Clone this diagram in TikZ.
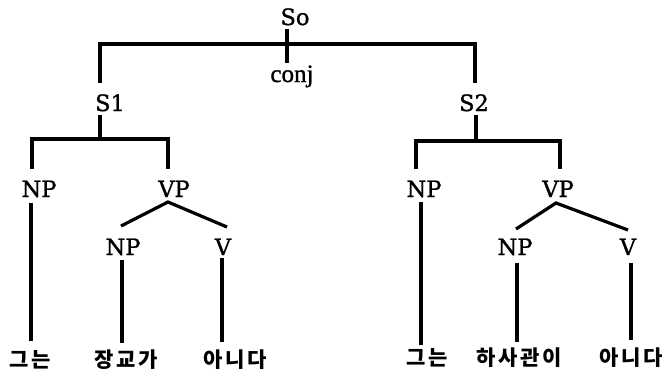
\documentclass[tikz,border=0pt]{standalone}
\usepackage{fontspec}
\setmainfont{DejaVu Serif}
\newfontfamily\labfont{DejaVu Serif}[FakeBold=1.2]
\newfontfamily\krfont{Noto Sans CJK KR}[LetterSpace=12]
\newfontfamily\conjfont{Liberation Serif}[FakeBold=1.2]
\begin{document}
\begin{tikzpicture}[x=1pt,y=-1pt,
  lab/.style={font=\labfont\fontsize{22.5}{24}\selectfont, inner sep=0pt, anchor=base},
  kr/.style={font=\krfont\bfseries\fontsize{21}{23}\selectfont, inner sep=0pt},
  ln/.style={line width=3.2pt, line join=miter, line cap=butt},
]
\useasboundingbox (0,0) rectangle (672,376);
% labels
\node[lab] (So) at (295,25) {So};
\node[lab, font=\conjfont\fontsize{25}{27}\selectfont] (conj) at (292,82) {conj};
\node[lab] (S1) at (110,111) {S1};
\node[lab] (S2) at (474,111) {S2};
\node[lab] (NPL) at (39,197) {NP};
\node[lab] (VPL) at (174,197) {VP};
\node[lab] (NPL2) at (123,255) {NP};
\node[lab] (VL) at (223,255) {V};
\node[lab] (NPR) at (424,197) {NP};
\node[lab] (VPR) at (558,197) {VP};
\node[lab] (NPR2) at (515,255) {NP};
\node[lab] (VR) at (628,255) {V};
\node[kr] (w1) at (30,360) {그는};
\node[kr] (w2) at (126,360) {장교가};
\node[kr] (w3) at (235,360) {아니다};
\node[kr] (w4) at (427,358) {그는};
\node[kr] (w5) at (519,358) {하사관이};
\node[kr] (w6) at (631,358) {아니다};
% connector end points
\coordinate (soB) at (287,29);
\coordinate (conjT) at (287,63);
\coordinate (j0) at (287,44);
\coordinate (s1T) at (100,83);
\coordinate (s2T) at (475,83);
\coordinate (s1B) at (100,115);
\coordinate (j1) at (100,139);
\coordinate (npLt) at (32,169);
\coordinate (vpLt) at (168,169);
\coordinate (npLb) at (31,203);
\coordinate (w1t) at (31,341);
\coordinate (vpLb) at (168,202);
\coordinate (npL2t) at (121,226);
\coordinate (vLt) at (227,227);
\coordinate (npL2b) at (122,260);
\coordinate (w2t) at (122,343);
\coordinate (vLb) at (222,258);
\coordinate (w3t) at (222,342);
\coordinate (s2B) at (476,115);
\coordinate (j2) at (476,141);
\coordinate (npRt) at (416,169);
\coordinate (vpRt) at (560,169);
\coordinate (npRb) at (421,202);
\coordinate (w4t) at (421,345);
\coordinate (vpRb) at (556,203);
\coordinate (npR2t) at (516,229);
\coordinate (vRt) at (628,230);
\coordinate (npR2b) at (517,263);
\coordinate (w5t) at (517,342);
\coordinate (vRb) at (631,263);
\coordinate (w6t) at (631,340);
% connectors
\draw[ln] (soB) -- (conjT);
\draw[ln] (s1T) |- (j0) -| (s2T);
\draw[ln] (s1B) -- (j1);
\draw[ln] (npLt) |- (j1) -| (vpLt);
\draw[ln] (npLb) -- (w1t);
\draw[ln] (npL2t) -- (vpLb) -- (vLt);
\draw[ln] (npL2b) -- (w2t);
\draw[ln] (vLb) -- (w3t);
\draw[ln] (s2B) -- (j2);
\draw[ln] (npRt) |- (j2) -| (vpRt);
\draw[ln] (npRb) -- (w4t);
\draw[ln] (npR2t) -- (vpRb) -- (vRt);
\draw[ln] (npR2b) -- (w5t);
\draw[ln] (vRb) -- (w6t);
\end{tikzpicture}
\end{document}
